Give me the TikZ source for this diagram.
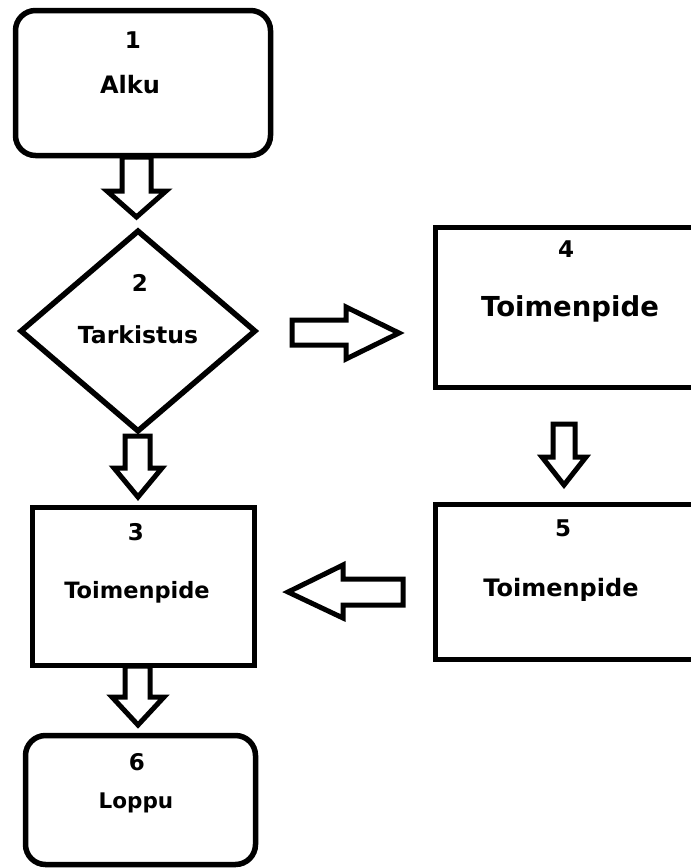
\documentclass[tikz,border=0pt]{standalone}
\usepackage{fontspec}
\setmainfont{DejaVu Sans}
\usetikzlibrary{shapes.geometric}
\tikzset{
  boxshape/.style={draw, line width=5.5pt, fill=white, inner sep=0pt},
  roundbox/.style={boxshape, rounded corners=20pt},
  dia/.style={draw, line width=5.5pt, diamond, inner sep=0pt},
  blockarrow/.style={draw, line width=5pt, line join=miter, fill=white},
  numtxt/.style={inner sep=0pt, font=\bfseries\fontsize{23}{26}\selectfont},
  lbl/.style={inner sep=0pt, font=\bfseries\fontsize{#1}{#1}\selectfont},
}
\begin{document}
\begin{tikzpicture}[x=1pt,y=-1pt]
\useasboundingbox (0,0) rectangle (691,868);
\clip (0,0) rectangle (691,868);
\fill[white] (0,0) rectangle (691,868);

% boxes
\node[roundbox, minimum width=255pt, minimum height=145pt] (b1) at (143,83) {};
\node[dia, minimum width=236pt, minimum height=202pt] (b2) at (138,331) {};
\node[boxshape, minimum width=222pt, minimum height=158pt] (b3) at (143.5,586.5) {};
\node[boxshape, minimum width=270pt, minimum height=160pt] (b4) at (570.5,307.5) {};
\node[boxshape, minimum width=270pt, minimum height=155pt] (b5) at (570.5,582) {};
\node[roundbox, minimum width=230pt, minimum height=129pt] (b6) at (140.5,800) {};

% texts
\node[numtxt] (t1n) at (133,40) {1};
\node[lbl=24] (t1) at (130,85) {Alku};
\node[numtxt] (t2n) at (140,283) {2};
\node[lbl=23.5] (t2) at (138,335) {Tarkistus};
\node[numtxt] (t3n) at (136,532) {3};
\node[lbl=22.5] (t3) at (137,592) {Toimenpide};
\node[numtxt] (t4n) at (566,249) {4};
\node[lbl=27.5] (t4) at (570,309) {Toimenpide};
\node[numtxt] (t5n) at (563,528) {5};
\node[lbl=24] (t5) at (561,590) {Toimenpide};
\node[numtxt] (t6n) at (137,762) {6};
\node[lbl=21.5] (t6) at (136,803) {Loppu};

% block arrows
\draw[blockarrow] (122,157) -- (122,191) -- (107,191) -- (136.5,217) -- (166,191) -- (151,191) -- (151,157) -- cycle;
\draw[blockarrow] (125,436) -- (125,468) -- (114,468) -- (138,497) -- (162,468) -- (150,468) -- (150,436) -- cycle;
\draw[blockarrow] (292,320) -- (346,320) -- (346,307) -- (399,333) -- (346,359) -- (346,345) -- (292,345) -- cycle;
\draw[blockarrow] (553,424) -- (575,424) -- (575,457) -- (586,457) -- (564,485) -- (542,457) -- (553,457) -- cycle;
\draw[blockarrow] (403,579) -- (343,579) -- (343,565) -- (288,592) -- (343,618) -- (343,605) -- (403,605) -- cycle;
\draw[blockarrow] (125,666) -- (125,697) -- (112,697) -- (138,725) -- (164,697) -- (150,697) -- (150,666) -- cycle;
\end{tikzpicture}
\end{document}
